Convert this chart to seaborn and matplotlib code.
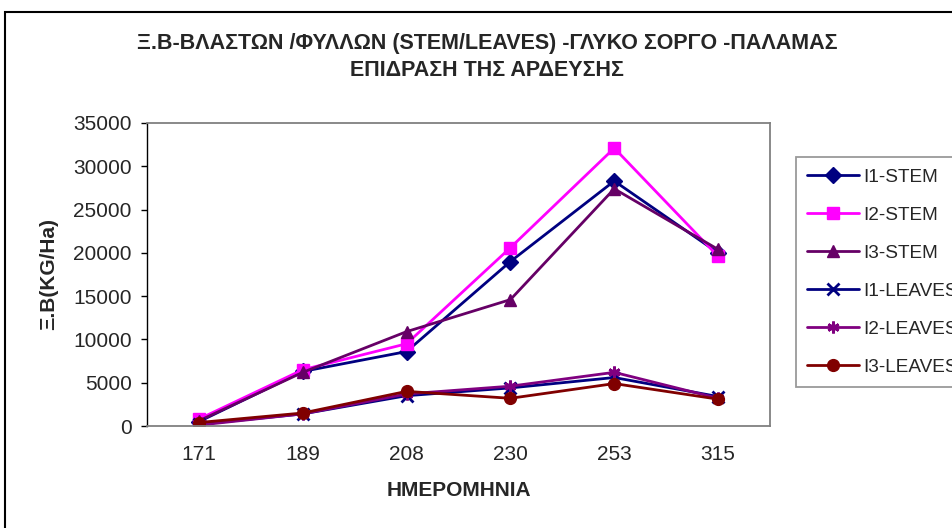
import matplotlib
matplotlib.use("Agg")
import matplotlib.pyplot as plt
import seaborn as sns
from matplotlib.patches import Rectangle

# data
days = ["171", "189", "208", "230", "253", "315"]
i1_stem = [500, 6300, 8600, 19000, 28300, 20000]
i2_stem = [800, 6500, 9500, 20600, 32100, 19600]
i3_stem = [600, 6200, 10900, 14600, 27400, 20400]
i1_leaves = [200, 1400, 3500, 4400, 5600, 3400]
i2_leaves = [100, 1400, 3700, 4600, 6200, 3200]
i3_leaves = [400, 1500, 4000, 3200, 4900, 3100]

series = [
    ("I1-STEM", i1_stem, "#000080", "D"),
    ("I2-STEM", i2_stem, "#FF00FF", "s"),
    ("I3-STEM", i3_stem, "#660066", "^"),
    ("I1-LEAVES", i1_leaves, "#000080", "x"),
    ("I2-LEAVES", i2_leaves, "#800080", (6, 2, 0)),
    ("I3-LEAVES", i3_leaves, "#800000", "o"),
]

sns.set_theme(style="white")
plt.rcParams['font.family'] = ['Liberation Sans', 'DejaVu Sans']

fig = plt.figure(figsize=(9.52, 5.28), dpi=100)
ax = fig.add_axes([147 / 952, 1 - 426 / 528, (770 - 147) / 952, (426 - 123) / 528])

pos = list(range(len(days)))
for name, vals, col, mk in series:
    sns.lineplot(x=pos, y=vals, ax=ax, color=col, marker=mk, markersize=8.5,
                 markeredgecolor=col, markeredgewidth=2 if mk in ("x", (6, 2, 0)) else 1,
                 linewidth=2, label=name, sort=False)

ax.set_xlim(-0.5, len(days) - 0.5)
ax.set_ylim(0, 35000)
ax.set_yticks(range(0, 35001, 5000))
ax.set_xticks(pos)
ax.set_xticklabels(days)
ax.tick_params(axis="y", direction="out", length=4, width=1, color="black",
               labelsize=15, pad=7, left=True)
ax.tick_params(axis="x", length=0, labelsize=15, pad=14)

for s in ["top", "right", "bottom"]:
    ax.spines[s].set_color("#808080")
    ax.spines[s].set_linewidth(1.3)
ax.spines["left"].set_color("black")
ax.spines["left"].set_linewidth(1)

ax.set_xlabel("ΗΜΕΡΟΜΗΝΙΑ", fontsize=15, fontweight="bold", labelpad=12)
ax.set_ylabel("Ξ.Β(KG/Ha)", fontsize=15, fontweight="bold", labelpad=11)

fig.text(0.512, 1 - 43 / 528,
         "Ξ.Β-ΒΛΑΣΤΩΝ /ΦΥΛΛΩΝ (STEM/LEAVES) -ΓΛΥΚΟ ΣΟΡΓΟ -ΠΑΛΑΜΑΣ",
         ha="center", va="center", fontsize=15.5, fontweight="bold")
fig.text(0.512, 1 - 70 / 528, "ΕΠΙΔΡΑΣΗ ΤΗΣ ΑΡΔΕΥΣΗΣ",
         ha="center", va="center", fontsize=15.5, fontweight="bold")

leg = ax.legend(loc="upper left", bbox_to_anchor=(796 / 952, 1 - 157 / 528),
                bbox_transform=fig.transFigure, frameon=True, fancybox=False,
                fontsize=13.7, handlelength=2.7, handletextpad=0.25,
                labelspacing=1.09, borderpad=0.6, borderaxespad=0)
leg.get_frame().set_edgecolor("#808080")
leg.get_frame().set_linewidth(1.3)

fig.patches.append(Rectangle((5 / 952, -0.1), 1.2, 1.1 - 12 / 528,
                             transform=fig.transFigure, fill=False,
                             edgecolor="black", linewidth=1.5))

fig.savefig("out.png", dpi=100)
